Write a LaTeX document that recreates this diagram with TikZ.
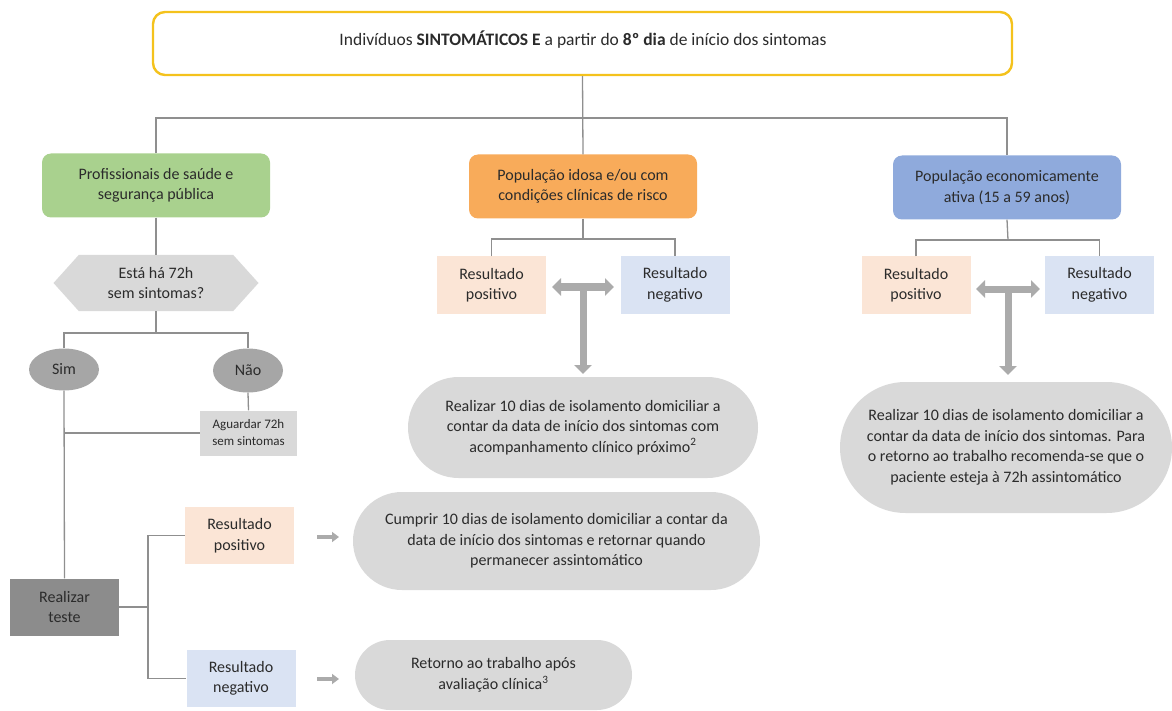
\documentclass[tikz,border=0pt]{standalone}
\usepackage{fontspec}
\setmainfont{Carlito}
\usetikzlibrary{shapes.geometric,shapes.misc,shapes.symbols,arrows.meta}
\definecolor{ybord}{HTML}{F4C21C}
\definecolor{cgreen}{HTML}{A9D18E}
\definecolor{corange}{HTML}{F8AB5A}
\definecolor{cblue}{HTML}{8FAADC}
\definecolor{cpeach}{HTML}{FBE5D6}
\definecolor{clblue}{HTML}{DAE3F3}
\definecolor{clgray}{HTML}{D9D9D9}
\definecolor{cmgray}{HTML}{A6A6A6}
\definecolor{cdgray}{HTML}{8C8C8C}
\definecolor{cline}{HTML}{8F8F8F}
\definecolor{carrow}{HTML}{ABABAB}
\definecolor{ctext}{HTML}{2B2B2B}
\tikzset{
  base/.style={inner sep=0pt, align=center, text=ctext, font=\fontsize{16}{20.5}\selectfont},
  catbox/.style={base, rectangle, rounded corners=9pt, minimum width=228pt, minimum height=64pt},
  resbox/.style={base, rectangle, minimum width=109pt, minimum height=57pt},
  pill/.style={base, rounded rectangle, fill=clgray},
  conn/.style={draw=cline, line width=1.3pt},
  bigarrow/.style={draw=carrow, line width=7pt, {Triangle[width=17pt,length=9pt]}-{Triangle[width=17pt,length=9pt]}},
  bigarrowone/.style={draw=carrow, line width=7pt, -{Triangle[width=17pt,length=9pt]}},
  smallarrow/.style={draw=carrow, line width=4pt, -{Triangle[width=10pt,length=7pt]}}
}
\begin{document}
\begin{tikzpicture}[x=1pt,y=-1pt]
\useasboundingbox (0,0) rectangle (1172,711);
% top
\node[base, draw=ybord, line width=2.4pt, rounded corners=12pt, fill=white, minimum width=859pt, minimum height=63pt] (top) at (582.5,43.5) {};
\node[base, font=\fontsize{17.5}{21}\selectfont] (toptext) at (583,40)
  {Indivíduos \textbf{SINTOMÁTICOS E} a partir do \textbf{8º dia} de início dos sintomas};
% categories
\node[catbox, fill=cgreen] (green) at (156,185.5) {Profissionais de saúde e\\segurança pública};
\node[catbox, fill=corange] (orange) at (583,186.5) {População idosa e/ou com\\condições clínicas de risco};
\node[catbox, fill=cblue] (blue) at (1007,187.5) {População economicamente\\ativa (15 a 59 anos)};
\coordinate (bar) at (583,118);
\draw[conn] (top.south) -- (orange.north);
\draw[conn] (green.north) |- (bar) -| (blue.north);
% left column
\node[base, signal, signal to=west and east, signal pointer angle=96, fill=clgray, minimum width=205pt, minimum height=56pt] (hex) at (156,283) {Está há 72h\\sem sintomas?};
\draw[conn] (green.south) -- (hex.north);
\node[base, ellipse, fill=cmgray, minimum width=70pt, minimum height=42pt] (sim) at (64,369.5) {Sim};
\node[base, ellipse, fill=cmgray, minimum width=70pt, minimum height=44pt] (nao) at (248,370.5) {Não};
\coordinate (hb) at (156,333);
\draw[conn] (hex.south) -- (hb);
\draw[conn] (sim.north) |- (hb) -| (nao.north);
\node[base, fill=clgray, minimum width=97pt, minimum height=45pt, font=\fontsize{13}{17}\selectfont] (agu) at (248.5,433) {Aguardar 72h\\sem sintomas};
\draw[conn] (nao.south) -- (agu.north);
\node[base, fill=cdgray, minimum width=109pt, minimum height=57pt] (test) at (64.5,607) {Realizar\\teste};
\draw[conn] (sim.south) -- (test.north);
\draw[conn] (agu.west) -- (agu.west -| sim.south);
\node[resbox, fill=cpeach] (lpos) at (239.5,535.5) {Resultado\\positivo};
\node[resbox, fill=clblue] (lneg) at (241,678.5) {Resultado\\negativo};
\coordinate (tb) at (148,607);
\draw[conn] (test.east) -- (tb);
\draw[conn] (lpos.west) -| (tb) |- (lneg.west);
\node[pill, minimum width=407pt, minimum height=98pt] (cpill) at (556.5,541)
  {Cumprir 10 dias de isolamento domiciliar a contar da\\data de início dos sintomas e retornar quando\\permanecer assintomático};
\node[pill, minimum width=277pt, minimum height=70pt] (rtpill) at (493.5,675)
  {Retorno ao trabalho após\\avaliação clínica\textsuperscript{3}};
\coordinate (la1s) at (317,537);
\coordinate (la1e) at (339,537);
\coordinate (la2s) at (317,679);
\coordinate (la2e) at (339,679);
\draw[smallarrow] (la1s) -- (la1e);
\draw[smallarrow] (la2s) -- (la2e);
% middle column
\node[resbox, fill=cpeach] (mpos) at (491.5,285) {Resultado\\positivo};
\node[resbox, fill=clblue] (mneg) at (675,285) {Resultado\\negativo};
\coordinate (ob) at (583,239);
\draw[conn] (orange.south) -- (ob);
\draw[conn] (mpos.north) |- (ob) -| (mneg.north);
\node[pill, minimum width=350pt, minimum height=101pt] (mpill) at (583,427.5)
  {Realizar 10 dias de isolamento domiciliar a\\contar da data de início dos sintomas com\\acompanhamento clínico próximo\textsuperscript{2}};
\coordinate (mta) at (552,287);
\coordinate (mtb) at (614,287);
\coordinate (mtc) at (583,287);
\coordinate (mtd) at (583,374);
\draw[bigarrow] (mta) -- (mtb);
\draw[bigarrowone] (mtc) -- (mtd);
% right column
\node[resbox, fill=cpeach] (rpos) at (916,285) {Resultado\\positivo};
\node[resbox, fill=clblue] (rneg) at (1099.5,285) {Resultado\\negativo};
\coordinate (bb) at (1008,240);
\draw[conn] (blue.south) -- (bb);
\draw[conn] (rpos.north) |- (bb) -| (rneg.north);
\node[pill, minimum width=332pt, minimum height=131pt] (rpill) at (1006,447.5)
  {Realizar 10 dias de isolamento domiciliar a\\contar da data de início dos sintomas. Para\\o retorno ao trabalho recomenda-se que o\\paciente esteja à 72h assintomático};
\coordinate (rta) at (976,289);
\coordinate (rtb) at (1040,289);
\coordinate (rtc) at (1008,289);
\coordinate (rtd) at (1008,375);
\draw[bigarrow] (rta) -- (rtb);
\draw[bigarrowone] (rtc) -- (rtd);
\end{tikzpicture}
\end{document}
